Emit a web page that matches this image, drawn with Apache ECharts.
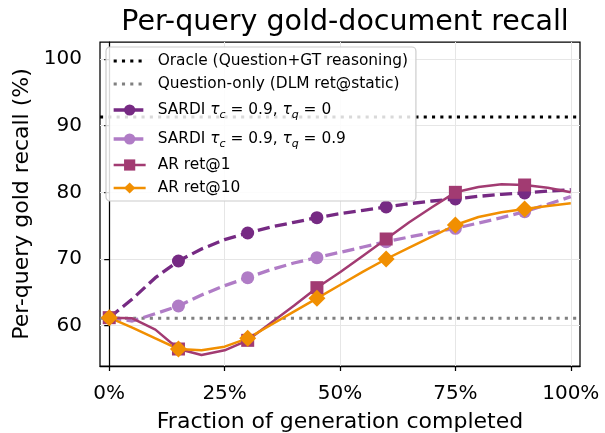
<!DOCTYPE html>
<html><head><meta charset="utf-8">
<script src="https://cdn.jsdelivr.net/npm/echarts@6/dist/echarts.min.js"></script>
<style>html,body{margin:0;padding:0;background:#fff}#c{width:605px;height:433px}</style>
</head><body><div id="c"></div>
<script>
// ---- data ----
const fractions = [0,5,10,15,20,25,30,35,40,45,50,55,60,65,70,75,80,85,90,95,100];
const markerFractions = [0,15,30,45,60,75,90];
const oracleRecall = 91.3;
const questionOnlyRecall = 61.1;
const sardiQ0  = [61.2,64.0,67.2,69.7,71.5,72.9,73.9,74.8,75.5,76.2,76.8,77.3,77.8,78.3,78.7,79.0,79.4,79.7,79.9,80.2,80.4];
const sardiQ09 = [61.2,60.7,61.8,62.95,64.6,66.0,67.2,68.4,69.4,70.2,71.0,71.8,72.6,73.3,74.0,74.6,75.4,76.2,77.1,78.2,79.35];
const arRet1   = [61.2,61.1,59.4,56.5,55.6,56.3,57.8,60.4,63.0,65.7,68.0,70.5,73.0,75.5,77.8,80.0,80.8,81.2,81.1,80.7,80.0];
const arRet10  = [61.2,59.7,58.1,56.5,56.3,56.85,58.1,60.1,62.1,64.1,66.1,68.1,70.0,71.7,73.4,75.1,76.3,77.0,77.5,77.95,78.35];
const xTicks = [0,25,50,75,100];
const yTicks = [60,70,80,90,100];
const xRange = [-2,102];
const yRange = [53.95,102.55];

const names = {
  oracle: 'Oracle (Question+GT reasoning)',
  qonly: 'Question-only (DLM ret@static)',
  s0: 'SARDI tc=0.9, tq=0',
  s9: 'SARDI tc=0.9, tq=0.9',
  ar1: 'AR ret@1',
  ar10: 'AR ret@10'
};
const legendLabels = {};
legendLabels[names.oracle] = names.oracle;
legendLabels[names.qonly] = names.qonly;
legendLabels[names.s0] = 'SARDI {i|τ}{s|c}{m| = 0.9, }{i|τ}{s|q}{m| = 0}';
legendLabels[names.s9] = 'SARDI {i|τ}{s|c}{m| = 0.9, }{i|τ}{s|q}{m| = 0.9}';
legendLabels[names.ar1] = names.ar1;
legendLabels[names.ar10] = names.ar10;

function build(vals){
  return fractions.map((x,i)=>{
    const item = {value:[x, vals[i]]};
    if (markerFractions.indexOf(x) < 0) item.symbol = 'none';
    return item;
  });
}
const FONT = 'DejaVu Sans';

const chart = echarts.init(document.getElementById('c'), null, {renderer:'canvas'});
chart.setOption({
  animation:false,
  backgroundColor:'#fff',
  textStyle:{fontFamily:FONT},
  title:{
    text:'Per-query gold-document recall',
    left:340, textAlign:'center', top:3,
    textStyle:{fontFamily:FONT, fontSize:28.5, fontWeight:'normal', color:'#000'}
  },
  grid:{left:100,right:25,top:42,bottom:67,containLabel:false,outerBoundsMode:'none',show:true,borderColor:'#000',borderWidth:1.25,backgroundColor:'transparent'},
  xAxis:{
    type:'value', min:xRange[0], max:xRange[1],
    name:'Fraction of generation completed', nameLocation:'middle', nameGap:45,
    nameTextStyle:{fontFamily:FONT,fontSize:22,color:'#000'},
    axisLine:{show:true,lineStyle:{color:'#000',width:1.25}},
    axisTick:{show:true,customValues:xTicks,length:5,lineStyle:{color:'#000',width:1.25}},
    axisLabel:{customValues:xTicks,formatter:'{value}%',fontFamily:FONT,fontSize:20,color:'#000',margin:18},
    splitLine:{show:true,lineStyle:{color:'#e6e6e6',width:1}}
  },
  yAxis:{
    type:'value', min:yRange[0], max:yRange[1],
    name:'Per-query gold recall (%)', nameLocation:'middle', nameGap:66,
    nameTextStyle:{fontFamily:FONT,fontSize:22,color:'#000'},
    axisLine:{show:true,lineStyle:{color:'#000',width:1.25}},
    axisTick:{show:true,customValues:yTicks,length:5,lineStyle:{color:'#000',width:1.25}},
    axisLabel:{customValues:yTicks,fontFamily:FONT,fontSize:20,color:'#000',margin:18},
    splitLine:{show:true,lineStyle:{color:'#e6e6e6',width:1}}
  },
  legend:{
    orient:'vertical', left:106, top:47,
    backgroundColor:'rgba(255,255,255,0.85)', borderColor:'#cccccc', borderWidth:1.2, borderRadius:4,
    padding:[6,8,5,6], itemGap:7, itemWidth:32, itemHeight:14,
    formatter:function(n){return legendLabels[n];},
    textStyle:{fontFamily:FONT,fontSize:15.4,color:'#000',lineHeight:16,padding:[0,0,0,7],
      rich:{
        i:{fontFamily:FONT,fontSize:15.4,fontStyle:'italic',lineHeight:22,color:'#000'},
        s:{fontFamily:FONT,fontSize:11,fontStyle:'italic',lineHeight:11,verticalAlign:'bottom',color:'#000'},
        m:{fontFamily:FONT,fontSize:15.4,lineHeight:22,color:'#000'}
      }},
    data:[
      {name:names.oracle, itemStyle:{opacity:0}, lineStyle:{width:3}},
      {name:names.qonly, itemStyle:{opacity:0}, lineStyle:{width:3}},
      {name:names.s0, lineStyle:{width:3.3}},
      {name:names.s9, lineStyle:{width:3.3}},
      {name:names.ar1, lineStyle:{width:2.5}},
      {name:names.ar10, lineStyle:{width:2.5}}
    ]
  },
  series:[
    {name:names.oracle,type:'line',symbol:'none',data:[[xRange[0],oracleRecall],[xRange[1],oracleRecall]],
      lineStyle:{color:'#000',width:3,type:[3.1,5.2]},itemStyle:{color:'#000'},silent:true},
    {name:names.qonly,type:'line',symbol:'none',data:[[xRange[0],questionOnlyRecall],[xRange[1],questionOnlyRecall]],
      lineStyle:{color:'#808080',width:3,type:[3.1,5.2]},itemStyle:{color:'#808080'},silent:true},
    {name:names.s0,type:'line',symbol:'circle',symbolSize:13,showAllSymbol:true,data:build(sardiQ0),
      lineStyle:{color:'#762a83',width:3.3,type:[12.2,5.3]},itemStyle:{color:'#762a83'}},
    {name:names.s9,type:'line',symbol:'circle',symbolSize:13,showAllSymbol:true,data:build(sardiQ09),
      lineStyle:{color:'#b07cc6',width:3.3,type:[12.2,5.3]},itemStyle:{color:'#b07cc6'}},
    {name:names.ar1,type:'line',symbol:'rect',symbolSize:13,showAllSymbol:true,data:build(arRet1),
      lineStyle:{color:'#a23b72',width:2.5},itemStyle:{color:'#a23b72'}},
    {name:names.ar10,type:'line',symbol:'diamond',symbolSize:17,showAllSymbol:true,data:build(arRet10),
      lineStyle:{color:'#f18f01',width:2.5},itemStyle:{color:'#f18f01'}}
  ]
});
</script></body></html>
